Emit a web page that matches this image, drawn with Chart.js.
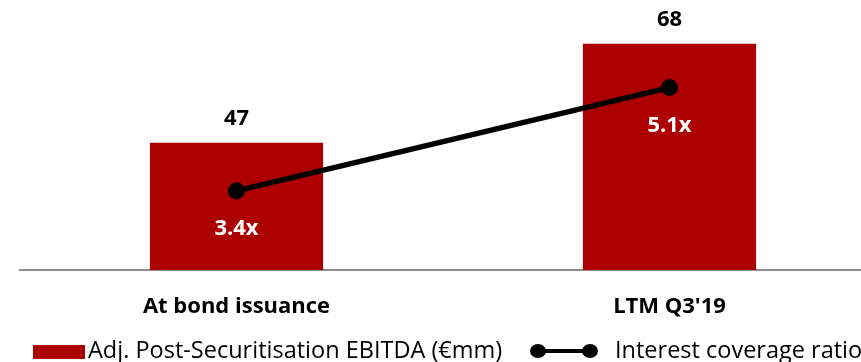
<!DOCTYPE html>
<html>
<head>
<meta charset="utf-8">
<script src="https://cdn.jsdelivr.net/npm/chart.js@4"></script>
<style>
  html, body { margin: 0; padding: 0; background: #ffffff; }
  #wrap { width: 861px; height: 362px; overflow: hidden; position: relative; }
  canvas { display: block; }
</style>
</head>
<body>
<div id="wrap">
  <canvas id="ebitdaChart" width="886" height="362"></canvas>
</div>
<script>
// ==========================================
// DATA
// ==========================================
const categories = ['At bond issuance', "LTM Q3'19"];
const ebitdaValues = [47, 68];
const coverageValues = [3.4, 5.1];
const seriesNames = ['Adj. Post-Securitisation EBITDA (€mm)', 'Interest coverage ratio'];

const FONT = '"Open Sans", Lato, sans-serif';
const RED = '#ad0000';

// value labels: bar totals above, ratio below each point
const valueLabels = {
    id: 'valueLabels',
    afterDatasetsDraw(chart) {
        const ctx = chart.ctx;
        ctx.save();
        ctx.textAlign = 'center';
        ctx.textBaseline = 'alphabetic';
        ctx.font = 'bold 22px ' + FONT;

        chart.getDatasetMeta(1).data.forEach(function (bar, i) {
            ctx.fillStyle = '#000000';
            ctx.fillText(String(ebitdaValues[i]), bar.x, bar.y - 18);
        });
        chart.getDatasetMeta(0).data.forEach(function (pt, i) {
            ctx.fillStyle = '#ffffff';
            ctx.fillText(coverageValues[i].toFixed(1) + 'x', pt.x, pt.y + 44);
        });
        ctx.restore();
    }
};

// bottom legend, drawn by hand so the line sample gets a dot at each end
const bottomLegend = {
    id: 'bottomLegend',
    afterDraw(chart) {
        const ctx = chart.ctx;
        const base = 358;
        const mid = 351;
        ctx.save();
        ctx.font = '23.5px ' + FONT;
        ctx.textBaseline = 'alphabetic';
        ctx.textAlign = 'left';

        ctx.fillStyle = RED;
        ctx.fillRect(33, 345, 52, 14);
        ctx.fillStyle = '#000000';
        ctx.fillText(seriesNames[0], 88, base);

        ctx.strokeStyle = '#000000';
        ctx.lineWidth = 4;
        ctx.beginPath();
        ctx.moveTo(538, mid);
        ctx.lineTo(590, mid);
        ctx.stroke();
        [538, 590].forEach(function (cx) {
            ctx.beginPath();
            ctx.ellipse(cx, mid, 8, 7, 0, 0, Math.PI * 2);
            ctx.fill();
        });
        ctx.fillText(seriesNames[1], 615, base);
        ctx.restore();
    }
};

const ctx = document.getElementById('ebitdaChart').getContext('2d');
new Chart(ctx, {
    type: 'bar',
    data: {
        labels: categories,
        datasets: [{
            type: 'line',
            label: seriesNames[1],
            data: coverageValues,
            yAxisID: 'y1',
            borderColor: '#000000',
            backgroundColor: '#000000',
            borderWidth: 5.5,
            pointRadius: 8.5,
            pointBorderWidth: 0,
            pointBackgroundColor: '#000000',
            tension: 0,
            order: 0
        }, {
            label: seriesNames[0],
            data: ebitdaValues,
            yAxisID: 'y',
            backgroundColor: RED,
            borderWidth: 0,
            categoryPercentage: 1,
            barPercentage: 0.4,
            order: 1
        }]
    },
    options: {
        responsive: false,
        animation: false,
        layout: { autoPadding: false, padding: { left: 20, right: 0, top: 0, bottom: 0 } },
        plugins: {
            legend: { display: false },
            tooltip: { enabled: false }
        },
        scales: {
            x: {
                grid: { display: false, drawTicks: false },
                border: { display: true, color: '#8f8f8f', width: 2 },
                ticks: {
                    color: '#000000',
                    font: { family: FONT, size: 22, weight: 'bold' },
                    padding: 24,
                    maxRotation: 0
                },
                afterFit(scale) { scale.height = 92; }
            },
            y: {
                display: false,
                min: 20,
                max: 77.3
            },
            y1: {
                display: false,
                position: 'right',
                min: 2.1,
                max: 6.54
            }
        }
    },
    plugins: [valueLabels, bottomLegend]
});
</script>
</body>
</html>
